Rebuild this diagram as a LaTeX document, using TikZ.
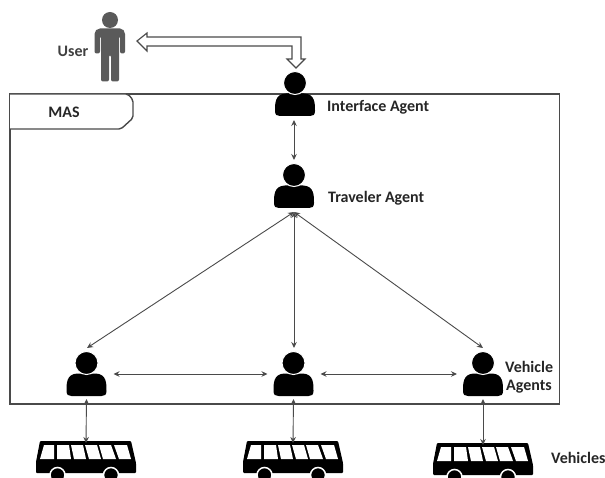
\documentclass[tikz,border=0pt]{standalone}
\usepackage{fontspec}
\setmainfont{Carlito}
\usetikzlibrary{arrows.meta}
\definecolor{inkgray}{HTML}{4A4A4A}
\definecolor{usergray}{HTML}{5A5A5A}
\tikzset{
  x=1pt,y=-1pt,
  lbl/.style={font=\bfseries\fontsize{16}{19}\selectfont,text=black!85,inner sep=0pt},
  link/.style={draw=inkgray,line width=0.9pt,{Stealth[length=6pt,width=5.5pt]}-{Stealth[length=6pt,width=5.5pt]}},
  frame/.style={draw=inkgray,line width=1.4pt},
  hollow/.style={draw=inkgray,line width=1.1pt,fill=white,line join=miter},
  anchorbox/.style={inner sep=0pt,outer sep=0pt,minimum width=42pt,minimum height=44pt},
  busbox/.style={inner sep=0pt,outer sep=0pt,minimum width=100pt,minimum height=34pt}
}
\newcommand{\personat}[3]{%
  \fill[black] (#2-20,#3+28)
     .. controls (#2-20,#3+20) and (#2-20,#3+11) .. (#2-9,#3+10.5)
     -- (#2+9,#3+10.5)
     .. controls (#2+20,#3+11) and (#2+20,#3+20) .. (#2+20,#3+28)
     .. controls (#2+20,#3+32) and (#2+18,#3+33) .. (#2+15,#3+33)
     -- (#2-15,#3+33)
     .. controls (#2-18,#3+33) and (#2-20,#3+32) .. (#2-20,#3+28) -- cycle;
  \fill[black,draw=white,line width=1pt] (#2,#3) circle[radius=11.5];
  \node[anchorbox] (#1) at (#2,#3+11) {};
}
\newcommand{\busat}[3]{%
  \node[busbox] (#1) at (#2+50,#3+17) {};
  \fill[black,rounded corners=1pt] (#2+4,#3) -- (#2+95,#3) -- (#2+100,#3+22) -- (#2+100,#3+32)
     -- (#2,#3+32) -- (#2,#3+21) -- cycle;
  \fill[white] (#2+8,#3+4) -- (#2+18,#3+4) -- (#2+18,#3+18) -- (#2+4,#3+18) -- cycle;
  \fill[white] (#2+21,#3+4) -- (#2+33,#3+4) -- (#2+35,#3+18) -- (#2+21,#3+18) -- cycle;
  \fill[white] (#2+35,#3+4) -- (#2+47,#3+4) -- (#2+50,#3+18) -- (#2+38,#3+18) -- cycle;
  \fill[white] (#2+49,#3+4) -- (#2+61,#3+4) -- (#2+65,#3+18) -- (#2+53,#3+18) -- cycle;
  \fill[white] (#2+63,#3+4) -- (#2+75,#3+4) -- (#2+80,#3+18) -- (#2+67,#3+18) -- cycle;
  \fill[white] (#2+78,#3+4) -- (#2+91,#3+4) -- (#2+95,#3+18) -- (#2+83,#3+18) -- cycle;
  \fill[black,draw=white,line width=1.5pt] (#2+21.5,#3+34) circle[radius=7.5];
  \fill[black,draw=white,line width=1.5pt] (#2+75,#3+34) circle[radius=7.5];
}
\begin{document}
\begin{tikzpicture}
\useasboundingbox[fill=white] (0,0) rectangle (605,478);
\begin{scope}
\clip (0,0) rectangle (605,478);
% MAS frame
\draw[frame] (10,94) rectangle (559.5,404);
\draw[frame,fill=white,rounded corners=2pt] (10,94) -- (128,94) -- (133,100) -- (133,118) -- (121,129) -- (10,129);
\node[lbl] (mas) at (64,112) {MAS};
% user
\fill[usergray] (110,20) circle[radius=8];
\fill[usergray,rounded corners=2pt] (94.5,53.5) -- (94.5,32) -- (98,28.5) -- (122,28.5) -- (125,32) -- (125,53.5)
  -- (120,53.5) -- (120,36) -- (119,36) -- (119,81.5) -- (111,81.5) -- (111,55) -- (109,55) -- (109,81.5)
  -- (101,81.5) -- (101,36) -- (100,36) -- (100,53.5) -- cycle;
\node[lbl,text=black!75] (userlbl) at (73,51) {User};
% hollow double arrow
\draw[hollow] (137,41) -- (147,33) -- (147,37) -- (301,37) -- (301,59) -- (305,59) -- (296,68)
  -- (287,59) -- (292,59) -- (292,46) -- (147,46) -- (147,51) -- cycle;
% persons
\personat{ia}{295}{83}
\personat{ta}{294}{175}
\personat{va}{86.5}{363}
\personat{vb}{293.5}{363}
\personat{vc}{483}{363}
% buses
\busat{ba}{36}{441}
\busat{bb}{243}{441}
\busat{bc}{433}{443}
% connectors
\draw[link] ([xshift=-1pt,yshift=-4pt]ia.south) -- ([yshift=4pt]ta.north);
\draw[link] ([yshift=-4pt]ta.south) -- ([xshift=0.5pt,yshift=4pt]vb.north);
\draw[link] ([yshift=-4pt]ta.south) -- ([xshift=0.5pt,yshift=4pt]va.north);
\draw[link] ([yshift=-4pt]ta.south) -- ([yshift=4pt]vc.north);
\draw[link] ([xshift=6pt]va.east) -- ([xshift=-5pt]vb.west);
\draw[link] ([xshift=6pt]vb.east) -- ([xshift=-5pt]vc.west);
\draw[link] ([yshift=-3pt]va.south) -- ([yshift=-2pt]ba.north);
\draw[link] ([yshift=-3pt]vb.south) -- ([yshift=-2pt]bb.north);
\draw[link] ([yshift=-3pt]vc.south) -- ([yshift=-2pt]bc.north);
% labels
\node[lbl,anchor=west] (ialbl) at (327,107) {Interface Agent};
\node[lbl,anchor=west] (talbl) at (328,198) {Traveler Agent};
\node[lbl,anchor=west] (vclbl) at (505,367) {Vehicle};
\node[lbl,anchor=west] (vclbl2) at (506,387) {Agents};
\node[lbl,anchor=west] (blbl) at (551,458) {Vehicles};
\end{scope}
\end{tikzpicture}
\end{document}
